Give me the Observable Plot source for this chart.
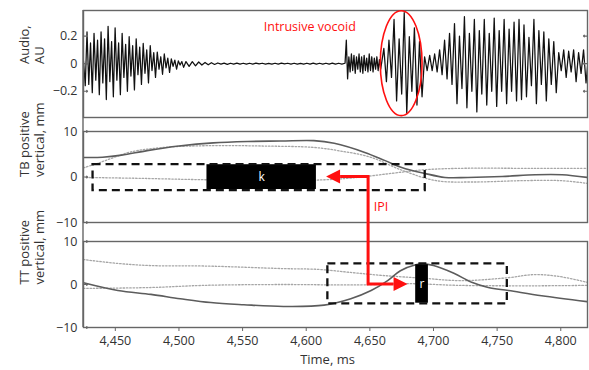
<!DOCTYPE html>
<html><head><meta charset="utf-8">
<script src="https://cdn.jsdelivr.net/npm/d3@7"></script>
<script src="https://cdn.jsdelivr.net/npm/@observablehq/plot@0.6"></script>
<style>
html,body{margin:0;padding:0;background:#fff;}
#chart{position:relative;width:589px;height:370px;overflow:hidden;background:#fff;}
#chart svg{position:absolute;left:0;top:0;}
</style></head><body><div id="chart"></div>
<script>
// ---------- data ----------
const xDomain = [4425, 4821];
const xTicks = [4450, 4500, 4550, 4600, 4650, 4700, 4750, 4800];
const audioTicks = [0.2, 0, -0.2];
const mmTicks = [10, 0, -10];

// audio waveform: extremes, per segment (start ms, step ms)
const audioSegStart = [4425, 4505.5, 4631.5, 4661, 4697];
const audioSegStep = [1.38, 2.5, 1.0, 2.0, 1.95];
const leftVowel = [0.02, -0.16,
  0.23, -0.15, 0.15, -0.21,
  0.22, -0.12, 0.17, -0.225,
  0.23, -0.14, 0.18, -0.26,
  0.27, -0.13, 0.16, -0.24,
  0.26, -0.12, 0.15, -0.225,
  0.22, -0.10, 0.14, -0.20,
  0.195, -0.09, 0.13, -0.19,
  0.18, -0.08, 0.12, -0.15,
  0.146, -0.07, 0.10, -0.14,
  0.13, -0.05, 0.08, -0.10,
  0.084, -0.04, 0.05, -0.077,
  0.07, -0.03, 0.04, -0.064,
  0.035, -0.02, 0.025, -0.04,
  0.02, -0.01, 0.015, -0.027];
const silence = [0.015, -0.02, 0.014, -0.016, 0.012, -0.01, 0.009, -0.008, 0.007, -0.006,
  0.005, -0.004, 0.004, -0.005, 0.003, -0.004, 0.004, -0.003, 0.003, -0.004,
  0.003, -0.003, 0.004, -0.002, 0.003, -0.003, 0.002, -0.004, 0.003, -0.003,
  0.004, -0.002, 0.003, -0.003, 0.003, -0.003, 0.002, -0.004, 0.003, -0.003,
  0.004, -0.003, 0.003, -0.004, 0.003, -0.003, 0.004, -0.004, 0.003, -0.003, 0.003];
const burst = [0.17, -0.11, 0.05, -0.06, 0.07, -0.05, 0.06, -0.07, 0.05, -0.04,
  0.07, -0.06, 0.05, -0.07, 0.06, -0.05, 0.04, -0.06, 0.07, -0.05,
  0.05, -0.06, 0.04, -0.04, 0.05, -0.05, 0.03, -0.04, 0.02];
const vocoid = [0.11, -0.13, 0.17, -0.10, 0.32, -0.27, 0.18, -0.22, 0.37, -0.36,
  0.195, -0.2, 0.26, -0.30, 0.16, -0.24, 0.05, -0.05];
const rightVowel = [0.06, -0.05, 0.07, -0.06, 0.10, -0.08, 0.17, -0.11, 0.22, -0.15,
  0.29, -0.29, 0.20, -0.18, 0.34, -0.32, 0.22, -0.2, 0.32, -0.35,
  0.24, -0.22, 0.32, -0.30, 0.22, -0.2, 0.33, -0.31, 0.24, -0.2,
  0.32, -0.29, 0.25, -0.2, 0.30, -0.27, 0.32, -0.26, 0.28, -0.24,
  0.19, -0.16, 0.32, -0.29, 0.24, -0.15, 0.23, -0.27, 0.18, -0.15,
  0.16, -0.21, 0.08, -0.05, 0.10, -0.10, 0.09, -0.06, 0.10, -0.13,
  0.08, -0.07, 0.10, -0.14, 0.06, -0.08, 0.07];
const audioSegments = [leftVowel, silence, burst, vocoid, rightVowel];

// tongue body (TB) vertical position, mm
const tbSolidT = [4425, 4440, 4455, 4475, 4500, 4527, 4554, 4580, 4606, 4622, 4646, 4662, 4675, 4693, 4709, 4727, 4754, 4780, 4801, 4821];
const tbSolidV = [4.3, 4.35, 4.8, 5.8, 6.8, 7.5, 7.8, 7.9, 8.0, 7.4, 5.4, 3.6, 2.1, 0.8, -0.1, -0.1, 0.1, 0.5, 0.5, -0.1];
const tbDotAT = [4425, 4436, 4449, 4462, 4488, 4527, 4567, 4606, 4625, 4650, 4676, 4702, 4730, 4770, 4800, 4821];
const tbDotAV = [2.0, 3.0, 4.3, 5.5, 6.5, 6.9, 6.8, 6.5, 5.8, 4.4, 1.4, -0.8, -1.1, -0.8, -0.8, -1.4];
const tbDotBT = [4427, 4470, 4520, 4580, 4615, 4640, 4667, 4693, 4720, 4780, 4821];
const tbDotBV = [-0.1, -0.3, -0.6, -0.8, -0.6, -0.1, 0.8, 1.6, 1.9, 1.9, 1.9];

// tongue tip (TT) vertical position, mm
const ttSolidT = [4425, 4452, 4478, 4501, 4525, 4551, 4582, 4614, 4635, 4651, 4664, 4674, 4686, 4692, 4700, 4716, 4730, 4743, 4759, 4785, 4821];
const ttSolidV = [0.4, -1.4, -2.3, -3.3, -4.2, -4.7, -5.1, -4.8, -3.3, -1.4, 0.9, 3.2, 4.6, 4.8, 4.4, 2.6, 0.5, -0.7, -1.4, -2.6, -4.0];
const ttDotAT = [4425, 4452, 4478, 4520, 4582, 4610, 4635, 4660, 4690, 4722, 4759, 4779, 4798, 4821];
const ttDotAV = [5.8, 4.9, 4.4, 4.3, 3.7, 3.5, 2.8, 2.1, 1.5, 0.9, 1.6, 2.3, 1.9, 0.5];
const ttDotBT = [4425, 4478, 4520, 4580, 4640, 4680, 4720, 4780, 4821];
const ttDotBV = [-0.9, -0.7, -0.2, 0.0, -0.1, 0.2, -0.2, -0.3, -0.2];

// gesture windows [x1, x2, y1, y2] and labels
const tbWindow = [4432.5, 4693.5, -3.0, 2.7];
const tbBox = [4522, 4608, -2.75, 2.7];
const ttWindow = [4617, 4758, -4.5, 4.8];
const ttBox = [4686, 4696, -4.35, 4.6];
const vocoidCenter = [4675, 0], vocoidRadius = [16.4, 0.38];
const ipiX = 4649, ipiTipTB = 4616, ipiTipTT = 4680;

// ---------- build ----------
const W = 589, H = 370;
const FONT = "'Open Sans', 'DejaVu Sans', sans-serif";
const TEXT = "#333", FRAME = "#666", SOLID = "#5c5c5c", DOT = "#a6a6a6", RED = "#ff1010";

const audio = [];
audioSegments.forEach((vals, s) => vals.forEach((v, i) => audio.push({t: audioSegStart[s] + i * audioSegStep[s], v})));
const rows = (T, V) => T.map((t, i) => ({t, v: V[i]}));
const rect = r => [{x1: r[0], x2: r[1], y1: r[2], y2: r[3]}];
const fmt = d => d === 0 ? "0" : (Math.abs(d) < 1 ? d.toFixed(1) : String(d)).replace("-", "\u2212");

function panelCommon(ticks, label) {
  return [
    Plot.frame({stroke: FRAME, strokeWidth: 1.4}),
    Plot.axisY(ticks, {tickSize: 0, tickPadding: 6, tickFormat: fmt, label: null, fill: TEXT, fontSize: 12.5}),
    Plot.vector(ticks, {y: d => d, frameAnchor: "left", length: 4, rotate: 90, anchor: "start", stroke: FRAME, strokeWidth: 1.2}),
    Plot.text([label], {text: d => d, frameAnchor: "left", dx: -52, rotate: -90, fontSize: 13, lineHeight: 1.2, fill: TEXT})
  ];
}
const base = (top, bottom) => ({
  width: W, height: H, marginLeft: 83, marginRight: 2, marginTop: top, marginBottom: H - bottom,
  style: {background: "transparent", fontFamily: FONT, fontSize: "12.5px", color: TEXT}
});

const p1 = Plot.plot({
  ...base(10, 117),
  x: {domain: xDomain, axis: null},
  y: {domain: [-0.39, 0.385], axis: null},
  marks: [
    Plot.line(audio, {x: "t", y: "v", stroke: "#111", strokeWidth: 1.25, clip: true}),
    ...panelCommon(audioTicks, "Audio,\nAU"),
    Plot.vector(audioTicks, {y: d => d, frameAnchor: "right", length: 4, rotate: -90, anchor: "start", stroke: FRAME, strokeWidth: 1.2}),
    Plot.text(["Intrusive vocoid"], {text: d => d, x: () => 4566.6, y: () => 0.263, textAnchor: "start", fill: RED, fontSize: 12.5})
  ]
});

const curveMarks = (dA, dB, solid) => [
  Plot.line(dA, {x: "t", y: "v", stroke: DOT, strokeWidth: 1.3, strokeDasharray: "1.5,1.8", curve: "catmull-rom", clip: true}),
  Plot.line(dB, {x: "t", y: "v", stroke: DOT, strokeWidth: 1.3, strokeDasharray: "1.5,1.8", curve: "catmull-rom", clip: true}),
  Plot.line(solid, {x: "t", y: "v", stroke: SOLID, strokeWidth: 1.6, curve: "catmull-rom", clip: true})
];
const windowMarks = (win, box, letter) => [
  Plot.rect(rect(box), {x1: "x1", x2: "x2", y1: "y1", y2: "y2", fill: "#000"}),
  Plot.rect(rect(win), {x1: "x1", x2: "x2", y1: "y1", y2: "y2", fill: "none", stroke: "#111", strokeWidth: 2.3, strokeDasharray: "8,5"}),
  Plot.text([letter], {text: d => d, x: () => (box[0] + box[1]) / 2, y: () => (box[2] + box[3]) / 2, fill: "#fff", fontSize: 12})
];

const p2 = Plot.plot({
  ...base(131, 222),
  x: {domain: xDomain, axis: null},
  y: {domain: [-10, 10], axis: null},
  marks: [
    ...curveMarks(rows(tbDotAT, tbDotAV), rows(tbDotBT, tbDotBV), rows(tbSolidT, tbSolidV)),
    ...windowMarks(tbWindow, tbBox, "k"),
    ...panelCommon(mmTicks, "TB positive\nvertical, mm"),
    Plot.text(["IPI"], {text: d => d, x: () => 4653, y: () => -6.6, textAnchor: "start", fill: RED, fontSize: 12.5})
  ]
});

const p3 = Plot.plot({
  ...base(241, 327),
  x: {domain: xDomain},
  y: {domain: [-10, 10], axis: null},
  marks: [
    ...curveMarks(rows(ttDotAT, ttDotAV), rows(ttDotBT, ttDotBV), rows(ttSolidT, ttSolidV)),
    ...windowMarks(ttWindow, ttBox, "r"),
    ...panelCommon(mmTicks, "TT positive\nvertical, mm"),
    Plot.axisX(xTicks, {tickSize: 4, tickPadding: 5, tickFormat: d3.format(","), label: null, fill: TEXT, stroke: FRAME, fontSize: 12.5}),
    Plot.text(["Time, ms"], {text: d => d, frameAnchor: "bottom", dx: -8, dy: 36, fill: TEXT, fontSize: 13})
  ]
});

const chart = document.getElementById("chart");
chart.append(p1, p2, p3);

// overlay annotations positioned through the plots' own scales
const X = v => p1.scale("x").apply(v);
const YA = v => p1.scale("y").apply(v);
const YB = v => p2.scale("y").apply(v);
const YC = v => p3.scale("y").apply(v);
const ov = d3.select(chart).append("svg").attr("width", W).attr("height", H);
ov.append("line").attr("x1", X(xDomain[0])).attr("x2", X(xDomain[0]))
  .attr("y1", YA(0.385)).attr("y2", YC(-10)).attr("stroke", FRAME).attr("stroke-width", 1.4);
ov.append("ellipse")
  .attr("cx", X(vocoidCenter[0])).attr("cy", YA(vocoidCenter[1]))
  .attr("rx", X(vocoidCenter[0] + vocoidRadius[0]) - X(vocoidCenter[0]))
  .attr("ry", YA(vocoidCenter[1]) - YA(vocoidCenter[1] + vocoidRadius[1]))
  .attr("fill", "none").attr("stroke", RED).attr("stroke-width", 1.6);
const hl = 14, hw = 7;
const vx = X(ipiX), yT = YB(0), yBt = YC(0), tl = X(ipiTipTB), tr = X(ipiTipTT);
ov.append("path").attr("d", `M${tl + hl},${yT}H${vx}V${yBt}H${tr - hl}`)
  .attr("fill", "none").attr("stroke", RED).attr("stroke-width", 3).attr("stroke-linejoin", "miter");
ov.append("path").attr("d", `M${tl},${yT}L${tl + hl},${yT - hw}L${tl + hl},${yT + hw}Z`).attr("fill", RED);
ov.append("path").attr("d", `M${tr},${yBt}L${tr - hl},${yBt - hw}L${tr - hl},${yBt + hw}Z`).attr("fill", RED);
</script></body></html>
